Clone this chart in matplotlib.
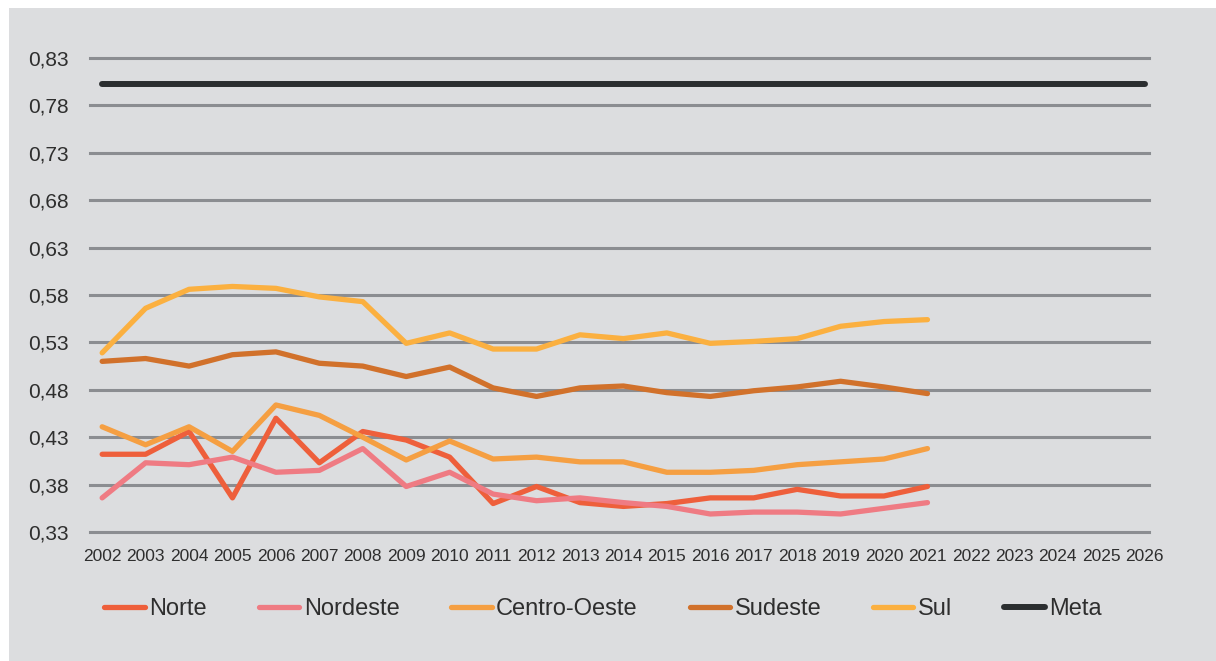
import matplotlib
matplotlib.use("Agg")
import matplotlib.pyplot as plt
from matplotlib.patches import Rectangle
from matplotlib.ticker import FuncFormatter

plt.rcParams['font.family'] = ['Liberation Sans', 'DejaVu Sans']

# dados
anos = list(range(2002, 2022))
norte = [0.412, 0.412, 0.436, 0.366, 0.450, 0.403, 0.436, 0.427, 0.409, 0.360,
         0.378, 0.361, 0.357, 0.360, 0.366, 0.366, 0.375, 0.368, 0.368, 0.378]
nordeste = [0.366, 0.403, 0.401, 0.409, 0.393, 0.395, 0.418, 0.378, 0.393, 0.370,
            0.363, 0.366, 0.361, 0.357, 0.349, 0.351, 0.351, 0.349, 0.355, 0.361]
centro_oeste = [0.441, 0.422, 0.441, 0.415, 0.464, 0.453, 0.430, 0.406, 0.426, 0.407,
                0.409, 0.404, 0.404, 0.393, 0.393, 0.395, 0.401, 0.404, 0.407, 0.418]
sudeste = [0.510, 0.513, 0.505, 0.517, 0.520, 0.508, 0.505, 0.494, 0.504, 0.482,
           0.473, 0.482, 0.484, 0.477, 0.473, 0.479, 0.483, 0.489, 0.483, 0.476]
sul = [0.519, 0.566, 0.586, 0.589, 0.587, 0.578, 0.573, 0.529, 0.540, 0.523,
       0.523, 0.538, 0.534, 0.540, 0.529, 0.531, 0.534, 0.547, 0.552, 0.554]
meta_anos = [2002, 2026]
meta = [0.803, 0.803]

anos_eixo = list(range(2002, 2027))
yticks = [0.33, 0.38, 0.43, 0.48, 0.53, 0.58, 0.63, 0.68, 0.73, 0.78, 0.83]

series = [
    ('Norte', norte, '#ee5f3b'),
    ('Nordeste', nordeste, '#ef7b83'),
    ('Centro-Oeste', centro_oeste, '#f59f42'),
    ('Sudeste', sudeste, '#d1712b'),
    ('Sul', sul, '#fbb040'),
]

bg = '#dcdddf'
fig = plt.figure(figsize=(12.16, 6.61), dpi=100, facecolor='white')
fig.patches.append(Rectangle((9 / 1216, -0.05), 1.1, 1.05 - 8 / 661, transform=fig.transFigure,
                             facecolor=bg, edgecolor='none', zorder=-10))

ax = fig.add_axes([90 / 1216, 129 / 661, 1059 / 1216, 474 / 661])
ax.set_facecolor('none')

for y in yticks:
    ax.axhline(y, color='#8b8d91', lw=2.2, zorder=1, clip_on=False)

for nome, vals, cor in series:
    ax.plot(anos, vals, color=cor, lw=3.8, label=nome, zorder=3,
            solid_capstyle='round', solid_joinstyle='round')
ax.plot(meta_anos, meta, color='#2b2e30', lw=4.3, label='Meta', zorder=4,
        solid_capstyle='round')

ax.set_xlim(2001.72, 2026.1)
ax.set_ylim(0.33, 0.83)
ax.set_yticks(yticks)
ax.yaxis.set_major_formatter(FuncFormatter(lambda v, p: f'{v:.2f}'.replace('.', ',')))
ax.set_xticks(anos_eixo)
ax.tick_params(axis='y', length=0, pad=15, labelsize=15, labelcolor='#2e2e2e')
ax.tick_params(axis='x', length=0, pad=12, labelsize=12.5, labelcolor='#2e2e2e')
for s in ax.spines.values():
    s.set_visible(False)

fig.legend(loc='center', bbox_to_anchor=(0.496, 0.079), ncol=6, frameon=False,
           fontsize=17, handlelength=1.7, handletextpad=0.2, columnspacing=2.2,
           labelcolor='#2e2e2e')

fig.savefig('out.png', dpi=100, facecolor=fig.get_facecolor())
